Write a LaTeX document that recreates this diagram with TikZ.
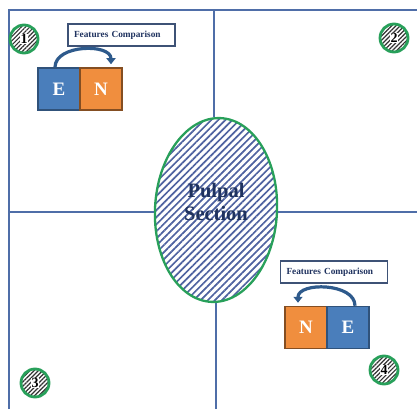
\documentclass[tikz,border=0pt]{standalone}
\usepackage{fontspec}
\setmainfont{Liberation Serif}
\usetikzlibrary{shapes.geometric,patterns.meta,arrows.meta}
\definecolor{frameblue}{RGB}{79,110,168}
\definecolor{pgreen}{RGB}{40,160,90}
\definecolor{hatchblue}{RGB}{78,98,160}
\definecolor{textblue}{RGB}{31,50,95}
\definecolor{eblue}{RGB}{74,126,187}
\definecolor{norange}{RGB}{240,142,62}
\definecolor{arrowblue}{RGB}{46,90,140}
\definecolor{boxborder}{RGB}{62,82,118}
\begin{document}
\begin{tikzpicture}[x=1pt,y=-1pt,
  frameline/.style={draw=frameblue,line width=2pt},
  numcircle/.style={circle,minimum size=28pt,inner sep=0pt,draw=pgreen,line width=2.8pt,
    pattern={Lines[angle=45,distance=3pt,line width=1.2pt]},pattern color=black!80},
  numlabel/.style={fill=white,inner sep=0.6pt,font=\bfseries\fontsize{14}{14}\selectfont},
  compbox/.style={draw=boxborder,line width=1.6pt,minimum width=107pt,minimum height=22pt,
    text width=95pt,inner xsep=6pt,inner ysep=0pt,align=left,
    font=\bfseries\fontsize{9.3}{10}\selectfont,text=textblue},
  letterbox/.style={minimum width=42pt,minimum height=42pt,inner sep=0pt,line width=1.5pt,
    text=white,font=\bfseries\fontsize{19}{19}\selectfont},
  ebox/.style={letterbox,fill=eblue,draw=eblue!65!black},
  nbox/.style={letterbox,fill=norange,draw=norange!55!black},
  arcarrow/.style={draw=arrowblue,line width=3.2pt,-{Triangle[length=6pt,width=9pt]}}
]
\useasboundingbox (0,0) rectangle (417,409);
\fill[white] (0,0) rectangle (417,409);

% frame corners
\coordinate (tl) at (9,10);
\coordinate (tr) at (417,10);
\coordinate (bl) at (9,409);
\coordinate (tm) at (214,10);
\coordinate (bm) at (216,409);
\coordinate (ml) at (9,212);
\coordinate (mr) at (417,212);

% central ellipse
\node[ellipse,minimum width=122pt,minimum height=184pt,draw=pgreen,line width=2.3pt,
  pattern={Lines[angle=45,distance=5pt,line width=1.7pt]},pattern color=hatchblue,
  rotate=-3] (pulp) at (216,210) {};

\draw[frameline] (bl) -- (tl) -- (tr);
\draw[frameline] (tm) -- (tm |- pulp.north);
\draw[frameline] (bm) -- (bm |- pulp.south);
\draw[frameline] (ml) -- (ml -| pulp.west);
\draw[frameline] (mr) -- (mr -| pulp.east);

\node[font=\bfseries\fontsize{20.5}{23}\selectfont,text=textblue,align=center] (ptext) at (216,202) {Pulpal\\Section};

% numbered circles
\node[numcircle] (c1) at (24,39) {};
\node[numlabel] (n1) at (c1) {1};
\node[numcircle] (c2) at (394,38) {};
\node[numlabel] (n2) at (c2) {2};
\node[numcircle] (c3) at (35,383) {};
\node[numlabel] (n3) at (c3) {3};
\node[numcircle] (c4) at (384,370) {};
\node[numlabel] (n4) at (c4) {4};

% quadrant 1
\node[compbox] (fc1) at (121.5,35) {Features Comparison};
\node[ebox] (e1) at (59,89) {E};
\node[nbox] (nn1) at (101,89) {N};
\draw[arcarrow] ([xshift=-4pt]e1.north) .. controls +(0,-23) and +(0,-21) .. ([xshift=10pt,yshift=3pt]nn1.north);

% quadrant 4
\node[compbox] (fc4) at (334,272) {Features Comparison};
\node[nbox] (nn4) at (306,327.5) {N};
\node[ebox] (e4) at (348,327.5) {E};
\draw[arcarrow] ([xshift=7pt]e4.north) .. controls +(0,-23) and +(0,-21) .. ([xshift=-8pt,yshift=3pt]nn4.north);
\end{tikzpicture}
\end{document}
